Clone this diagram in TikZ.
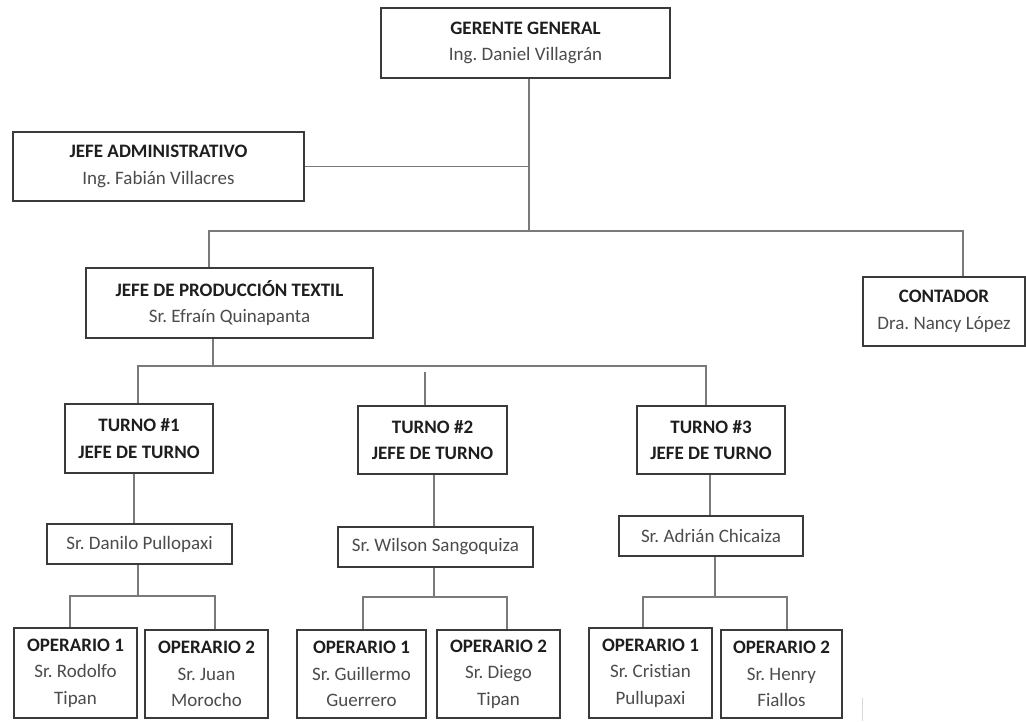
\documentclass[tikz,border=0pt]{standalone}
\usepackage{fontspec}
\setmainfont{Carlito}[Ligatures=NoCommon]
\frenchspacing
\definecolor{boxc}{HTML}{3A3A3A}
\definecolor{linec}{HTML}{7A7A7A}
\definecolor{titc}{HTML}{1E1E1E}
\definecolor{namc}{HTML}{4C4C4C}
\newcommand{\ttl}[1]{{\bfseries\color{titc}#1}}
\newcommand{\nm}[1]{{\color{namc}#1}}
\begin{document}
\begin{tikzpicture}[x=1pt,y=-1pt,
  box/.style={draw=boxc, line width=1.2pt, fill=white, align=center, inner sep=0pt,
    font=\fontsize{19}{26.5}\selectfont},
  conn/.style={draw=linec, line width=1.4pt}]
\useasboundingbox[fill=white] (0,0) rectangle (1026,721);

% top levels
\node[box, minimum width=289, minimum height=70] (ger) at (525.5,43) {\ttl{GERENTE GENERAL}\\\nm{Ing. Daniel Villagrán}};
\node[box, minimum width=291, minimum height=69] (adm) at (158.5,166.5) {\ttl{JEFE ADMINISTRATIVO}\\\nm{Ing. Fabián Villacres}};
\node[box, minimum width=287, minimum height=70] (prod) at (229.5,303) {\ttl{JEFE DE PRODUCCIÓN TEXTIL}\\\nm{Sr. Efraín Quinapanta}};
\node[box, minimum width=162, minimum height=69] (cont) at (944,311.5) {\ttl{CONTADOR}\\\nm{Dra. Nancy López}};

% turnos
\node[box, minimum width=148, minimum height=69] (t1) at (139,438.5) {\ttl{TURNO \#1}\\\ttl{JEFE DE TURNO}};
\node[box, minimum width=149, minimum height=68] (t2) at (432.5,440) {\ttl{TURNO \#2}\\\ttl{JEFE DE TURNO}};
\node[box, minimum width=148, minimum height=68] (t3) at (711,440) {\ttl{TURNO \#3}\\\ttl{JEFE DE TURNO}};

% jefes de turno
\node[box, minimum width=185, minimum height=40] (dan) at (139.5,544) {\nm{Sr. Danilo Pullopaxi}};
\node[box, minimum width=195, minimum height=40] (wil) at (435.5,547) {\nm{Sr. Wilson Sangoquiza}};
\node[box, minimum width=184, minimum height=40] (adr) at (711,536) {\nm{Sr. Adrián Chicaiza}};

% operarios
\node[box, minimum width=123, minimum height=90] (o11) at (75.5,673) {\ttl{OPERARIO 1}\\\nm{Sr. Rodolfo}\\\nm{Tipan}};
\node[box, minimum width=123, minimum height=88] (o12) at (206.5,674) {\ttl{OPERARIO 2}\\\nm{Sr. Juan}\\\nm{Morocho}};
\node[box, minimum width=129, minimum height=88] (o21) at (361.5,674) {\ttl{OPERARIO 1}\\\nm{Sr. Guillermo}\\\nm{Guerrero}};
\node[box, minimum width=123, minimum height=88] (o22) at (498.5,674) {\ttl{OPERARIO 2}\\\nm{Sr. Diego}\\\nm{Tipan}};
\node[box, minimum width=123, minimum height=90] (o31) at (650.5,673) {\ttl{OPERARIO 1}\\\nm{Sr. Cristian}\\\nm{Pullupaxi}};
\node[box, minimum width=121, minimum height=88] (o32) at (781.5,674) {\ttl{OPERARIO 2}\\\nm{Sr. Henry}\\\nm{Fiallos}};

% junction coordinates
\coordinate (tr) at (529,231);
\coordinate (bl) at (209,231);
\coordinate (br) at (963,231);
\coordinate (pj) at (213,366);
\coordinate (h1) at (138,366);
\coordinate (h3) at (706,366);
\coordinate (s2) at (425,372);
\coordinate (v1) at (134,0);
\coordinate (v2) at (434,0);
\coordinate (v3) at (710,0);
\coordinate (d1) at (138,596);
\coordinate (d1l) at (70,596);
\coordinate (d1r) at (215,596);
\coordinate (d2) at (434,597);
\coordinate (d2l) at (363,597);
\coordinate (d2r) at (507,597);
\coordinate (d3) at (715,597);
\coordinate (d3l) at (643,597);
\coordinate (d3r) at (787,597);

% connectors
\draw[conn] (ger.south -| tr) -- (tr);
\draw[conn] (adm.east) -- (adm.east -| tr);
\draw[conn] (prod.north -| bl) -- (bl) -- (br) -- (cont.north -| br);
\draw[conn] (prod.south -| pj) -- (pj);
\draw[conn] (t1.north -| h1) -- (h1) -- (h3) -- (t3.north -| h3);
\draw[conn] (t2.north -| s2) -- (s2);
\draw[conn] (t1.south -| v1) -- (dan.north -| v1);
\draw[conn] (t2.south -| v2) -- (wil.north -| v2);
\draw[conn] (t3.south -| v3) -- (adr.north -| v3);
\draw[conn] (dan.south -| d1) -- (d1);
\draw[conn] (o11.north -| d1l) -- (d1l) -- (d1r) -- (o12.north -| d1r);
\draw[conn] (wil.south -| d2) -- (d2);
\draw[conn] (o21.north -| d2l) -- (d2l) -- (d2r) -- (o22.north -| d2r);
\draw[conn] (adr.south -| d3) -- (d3);
\draw[conn] (o31.north -| d3l) -- (d3l) -- (d3r) -- (o32.north -| d3r);

% faint mark at the bottom
\draw[draw=black!15, line width=1pt] (862,698) -- (862,721);
\end{tikzpicture}
\end{document}
